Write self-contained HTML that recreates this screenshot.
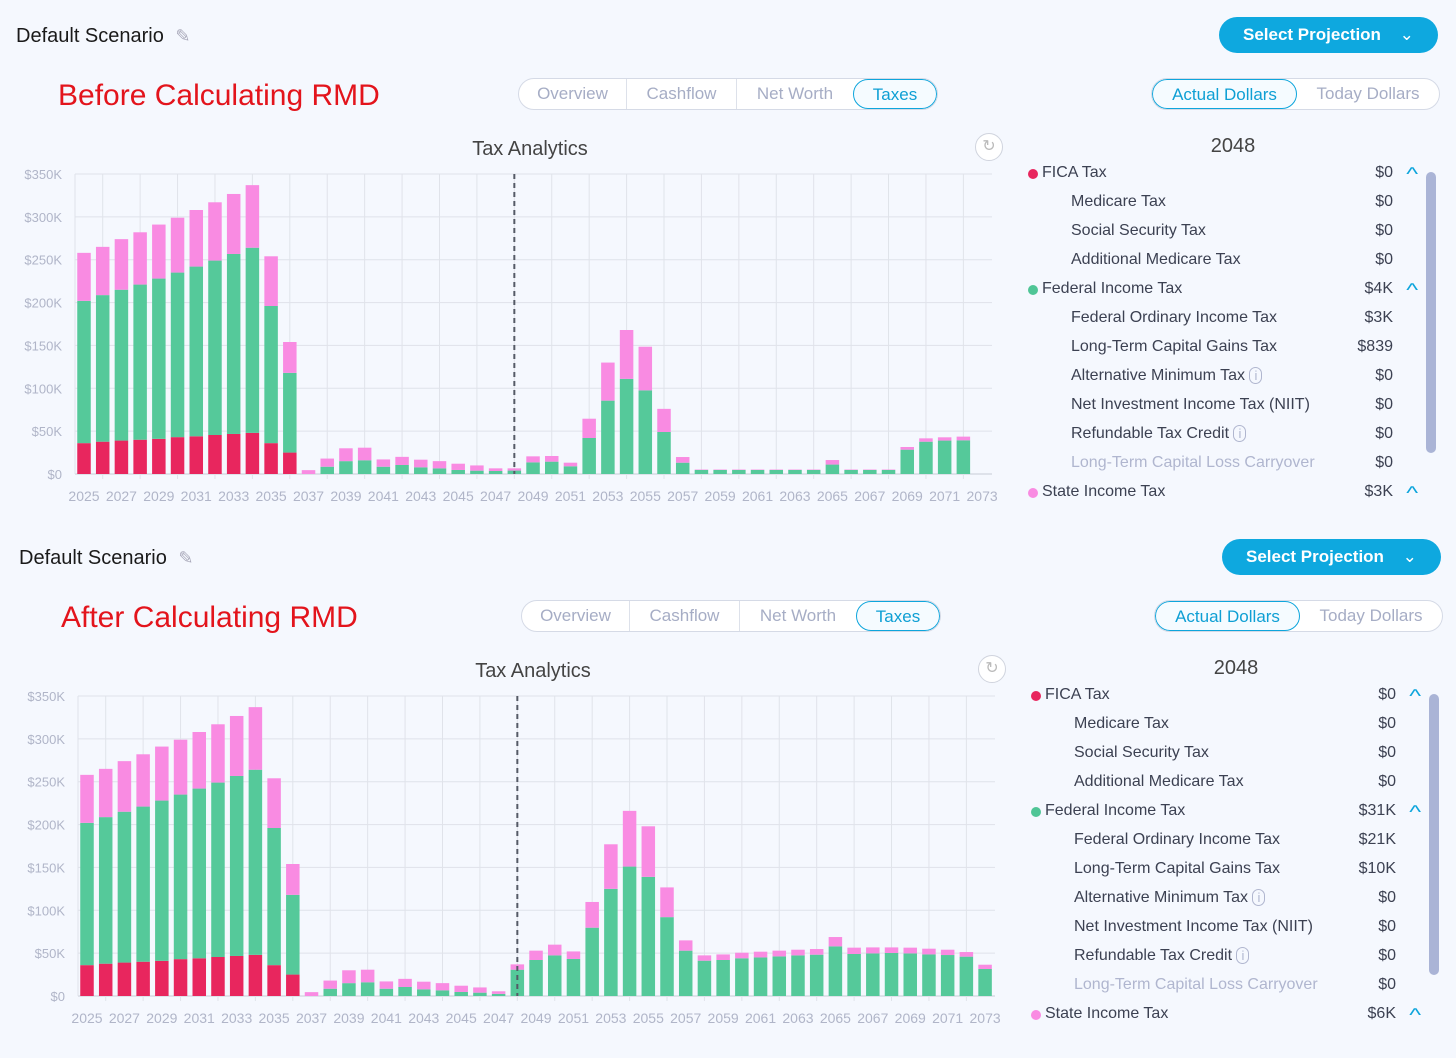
<!DOCTYPE html>
<html><head><meta charset="utf-8">
<style>
body{margin:0;width:1456px;height:1058px;background:#f5f8fe;font-family:"Liberation Sans",sans-serif;overflow:hidden;position:relative}
.panel{position:absolute;left:0;top:0;width:1456px;height:530px}
.abs{position:absolute}
.scen{left:16px;top:25px;font-size:20px;color:#1a1a1a;font-weight:500}
.btn{left:1219px;top:17px;width:219px;height:36px;border-radius:18px;background:#0ea8df;color:#fff;font-size:17px;font-weight:bold;line-height:36px;text-indent:24px}
.title{left:58px;top:79px;font-size:30px;color:#e3141c}
.tabs{top:78px;height:30px;display:flex;border:1px solid #d5dae6;border-radius:16px;background:#fff;overflow:hidden}
.tab{font-size:17px;color:#a6adc5;line-height:30px;text-align:center;border-right:1px solid #dde1ea;box-sizing:border-box}
.tab.on{color:#0e9fd4;border:1px solid #0ea5dc;border-radius:16px;background:#f5fbff}
.ta{left:430px;top:138px;width:200px;text-align:center;font-size:20px;color:#444}
.yr{left:1133px;top:135px;width:200px;text-align:center;font-size:20px;color:#444}
.row{position:absolute;left:1028px;width:380px;height:24px;font-size:16px;color:#3c4152}
.row .dot{position:absolute;left:0;top:7px;width:10px;height:10px;border-radius:5px}
.row .lb{position:absolute;left:14px;top:2px}
.row .lb.sub{left:43px}
.row .v{position:absolute;right:15px;top:2px}
.chev{position:absolute;left:1408px;font-size:18px;color:#0ea5dc;transform:scaleX(1.4)}
</style></head><body>
<div class="panel" id="p1"></div>
<div class="panel" id="p2" style="left:3px;top:522px"></div>
<script>
const years=[];for(let y=2025;y<=2073;y++)years.push(y);
const yTicks=[0,50,100,150,200,250,300,350];
const ficaBefore=[36,37.7,39,40,41,43,44,45.5,46.7,48,36,25,0,0,0,0,0,0,0,0,0,0,0,0,0,0,0,0,0,0,0,0,0,0,0,0,0,0,0,0,0,0,0,0,0,0,0,0,0];
const fedBefore=[166,171,176,181,187,192,198,203.5,210,216,160,93,0,8.5,15,16,8.5,10.5,7.8,6.6,4.7,3.9,3.5,4,13.6,14.4,9,42,85.6,111,97.6,49,13.2,4.7,4.7,4.7,4.7,4.7,4.7,4.7,11,4.7,4.7,4.7,28.4,37.7,39,39.3,0];
const stateBefore=[56,56.3,59,61,63,64,66,68,70,73,58,36,4.5,9.5,15,14.7,8.5,9.5,8.9,8.4,7.3,6.1,3.1,2.6,7,6.6,4.2,22.5,44.4,57,50.9,27,6.6,0.5,0.5,0.5,0.5,0.5,0.5,0.5,5.3,0.5,0.5,0.5,3.1,3.9,3.8,4.3,0];
const ficaAfter=ficaBefore.slice();
const fedAfter=[166,171,176,181,187,192,198,203.5,210,216,160,93,0,8.5,15,16,8.5,10.5,7.8,6.6,4.7,3.9,2.5,30.7,42,47.4,43.2,79.7,125,151,139,92,52.9,41.2,42,44,45,46.2,47.4,48.2,57.9,49,49.7,50.2,49.7,48.5,47.8,45.9,31.5];
const stateAfter=[56,56.3,59,61,63,64,66,68,70,73,58,36,4.5,9.5,15,14.7,8.5,9.5,8.9,8.4,7.3,6.1,3,6.2,10.9,12.5,8.8,30,52,65,59,34.7,12,6.2,6.5,6.5,6.7,6.7,6.6,6.6,10.9,7.4,7,6.5,6.7,6.7,6.2,5.4,5];
const selYear=2048;
const rowsBefore=[["FICA Tax","$0",0,"#e8265e"],["Medicare Tax","$0",1],["Social Security Tax","$0",1],["Additional Medicare Tax","$0",1],["Federal Income Tax","$4K",0,"#4fc596"],["Federal Ordinary Income Tax","$3K",1],["Long-Term Capital Gains Tax","$839",1],["Alternative Minimum Tax","$0",2],["Net Investment Income Tax (NIIT)","$0",1],["Refundable Tax Credit","$0",2],["Long-Term Capital Loss Carryover","$0",3],["State Income Tax","$3K",0,"#f98be2"]];
const rowsAfter=[["FICA Tax","$0",0,"#e8265e"],["Medicare Tax","$0",1],["Social Security Tax","$0",1],["Additional Medicare Tax","$0",1],["Federal Income Tax","$31K",0,"#4fc596"],["Federal Ordinary Income Tax","$21K",1],["Long-Term Capital Gains Tax","$10K",1],["Alternative Minimum Tax","$0",2],["Net Investment Income Tax (NIIT)","$0",1],["Refundable Tax Credit","$0",2],["Long-Term Capital Loss Carryover","$0",3],["State Income Tax","$6K",0,"#f98be2"]];

const NS="http://www.w3.org/2000/svg";
function mk(tag,attrs,parent){const e=document.createElementNS(NS,tag);for(const k in attrs)e.setAttribute(k,attrs[k]);parent.appendChild(e);return e;}
function build(p,title,fica,fed,state,rows){
  p.innerHTML=`
  <div class="abs scen">Default Scenario <span style="color:#aab;font-size:18px;margin-left:6px">✎</span></div>
  <div class="abs btn">Select Projection <span style="margin-left:14px;font-weight:normal">⌄</span></div>
  <div class="abs title">${title}</div>
  <div class="abs tabs" style="left:518px;width:418px">
    <div class="tab" style="width:108px">Overview</div>
    <div class="tab" style="width:110px">Cashflow</div>
    <div class="tab" style="width:116px;border-right:none">Net Worth</div>
    <div class="tab on" style="width:84px">Taxes</div>
  </div>
  <div class="abs tabs" style="left:1151px;width:287px">
    <div class="tab on" style="width:145px">Actual Dollars</div>
    <div class="tab" style="width:142px;border:none">Today Dollars</div>
  </div>
  <div class="abs ta">Tax Analytics</div>
  <div class="abs" style="left:975px;top:133px;width:26px;height:26px;border:1px solid #d0d4de;border-radius:14px;background:#fff;color:#bbb;text-align:center;line-height:26px;font-size:16px">↻</div>
  <div class="abs yr">${selYear}</div>
  <div class="abs" style="left:1426px;top:172px;width:10px;height:281px;border-radius:5px;background:#aab4d6"></div>`;
  rows.forEach((r,i)=>{
    const d=document.createElement('div');d.className='row';d.style.top=(162+i*29)+'px';
    
    
    const sub=r[2]>0;
    d.innerHTML=(r[3]?`<span class="dot" style="background:${r[3]}"></span>`:'')+
      `<span class="lb${sub?' sub':''}" style="${r[2]==3?'color:#b0b6cf':''}">${r[0]}${r[2]==2?' <span style="color:#b0b6cf;font-size:13px;border:1px solid #b0b6cf;border-radius:8px;padding:0 4px">i</span>':''}</span><span class="v">${r[1]}</span>`;
    p.appendChild(d);
    if(!sub){const c=document.createElement('div');c.className='chev';c.textContent='^';c.style.top=(164+i*29)+'px';
      
      
      p.appendChild(c);}
  });
  const svg=mk('svg',{width:1010,height:520,style:'position:absolute;left:0;top:0'},p);
  
  
  const x0=75,x1=992,yb=474,yt=174;
  const X=i=>84+i*18.71;
  const Y=v=>yb-(v/350)*(yb-yt);
  yTicks.forEach(t=>{
    const l=mk('line',{x1:x0,x2:x1,y1:Y(t),y2:Y(t),stroke:t?'#dfe2ea':'#c8ccd6','stroke-width':1},svg);
    
    
    const tx=mk('text',{x:62,y:Y(t)+5,'text-anchor':'end','font-size':13,fill:'#b0b5c8'},svg);tx.textContent='$'+t+(t?'K':'');
    
    
  });
  mk('line',{x1:x0,x2:x0,y1:yt,y2:yb,stroke:'#dfe2ea'},svg);
  years.forEach((yr,i)=>{
    if(yr%2==0){const g=mk('line',{x1:X(i),x2:X(i),y1:yt,y2:yb+5,stroke:'#e0e3ea'},svg);
      
      }
    else{const t=mk('text',{x:X(i),y:yb+27,'text-anchor':'middle','font-size':14,fill:'#b0b5c8'},svg);t.textContent=yr;
      
      }
  });
  const bw=13.5;
  years.forEach((yr,i)=>{
    let base=0;
    [[fica[i],'#e8265e','fica'],[fed[i],'#55c99a','federal'],[state[i],'#f98be2','state']].forEach(([v,c,n])=>{
      if(v>0){const r=mk('rect',{x:X(i)-bw/2,y:Y(base+v),width:bw,height:Y(base)-Y(base+v),fill:c},svg);
        
        }
      base+=v;
    });
  });
  const si=years.indexOf(selYear);
  const dl=mk('line',{x1:X(si),x2:X(si),y1:yt,y2:yb,stroke:'#555a66','stroke-width':2,'stroke-dasharray':'5,4'},svg);
  
  
}
build(document.getElementById('p1'),'Before Calculating RMD',ficaBefore,fedBefore,stateBefore,rowsBefore);
build(document.getElementById('p2'),'After Calculating RMD',ficaAfter,fedAfter,stateAfter,rowsAfter);
</script>
</body></html>
